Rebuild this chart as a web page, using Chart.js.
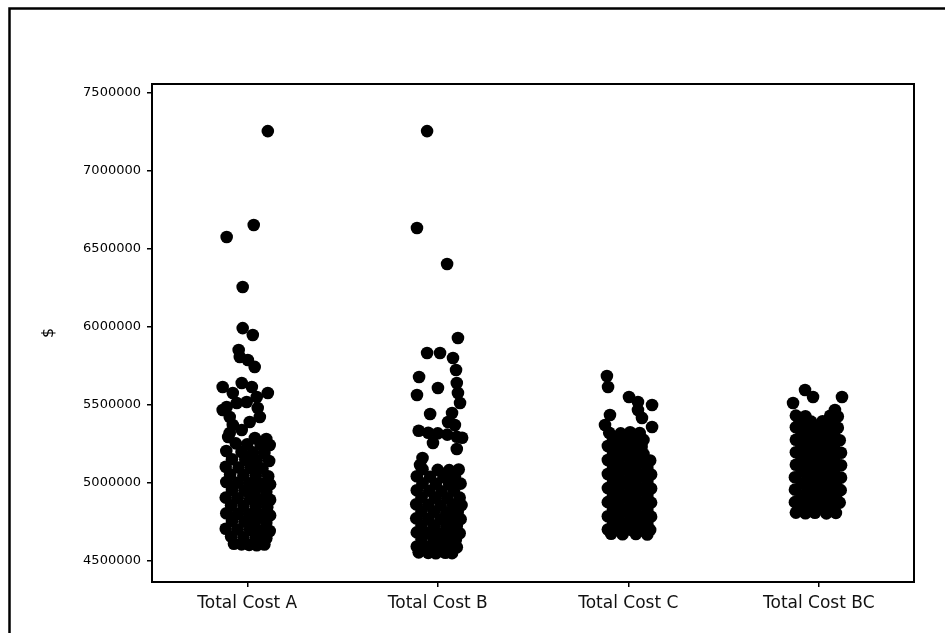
<!DOCTYPE html>
<html>
<head>
<meta charset="utf-8">
<script src="https://cdn.jsdelivr.net/npm/chart.js@4.4.1/dist/chart.umd.min.js"></script>
<style>
  html, body { margin: 0; padding: 0; background: #fff; }
  #wrap { width: 945px; height: 633px; }
</style>
</head>
<body>
<div id="wrap"><canvas id="costChart" width="945" height="633"></canvas></div>
<script>
// categories on the x axis
const categories = ["Total Cost A", "Total Cost B", "Total Cost C", "Total Cost BC"];
const yTicks = [4500000, 5000000, 5500000, 6000000, 6500000, 7000000, 7500000];

// individual values (jitter is the horizontal spread inside a column)
const costA = [
  7256000, 6654000, 6577000, 6256000, 5993000, 5949000,
  5852000, 5808000, 5788000, 5744000,
  5641000, 5615000, 5615000, 5577000, 5577000, 5551000,
  5519000, 5513000, 5487000, 5481000, 5468000,
  5423000, 5423000, 5391000, 5372000, 5340000, 5320000,
  5295000, 5288000, 5282000,
  5254000, 5248000, 5246000, 5243000,
  5205000, 5198000, 5196000, 5192000,
  5152000, 5148000, 5145000, 5141000,
  5104000, 5099000, 5096000, 5092000,
  5055000, 5050000, 5047000, 5043000,
  5006000, 5002000, 4998000, 4995000, 4991000,
  4955000, 4951000, 4948000, 4944000,
  4906000, 4902000, 4899000, 4895000, 4892000,
  4856000, 4852000, 4849000, 4845000,
  4806000, 4802000, 4799000, 4795000, 4792000,
  4756000, 4752000, 4749000, 4745000,
  4706000, 4702000, 4699000, 4695000, 4692000,
  4656000, 4652000, 4649000, 4645000,
  4610000, 4606000, 4603000, 4601000, 4605000
];
const jitterA = [
  0.108, 0.034, -0.108, -0.024, -0.024, 0.029,
  -0.045, -0.039, 0.003, 0.039,
  -0.029, -0.129, 0.024, -0.076, 0.108, 0.05,
  -0.003, -0.055, -0.108, 0.055, -0.129,
  -0.092, 0.066, 0.013, -0.076, -0.029, -0.092,
  -0.1, 0.04, 0.1,
  -0.06, 0.0, 0.07, 0.118,
  -0.11, -0.03, 0.03, 0.09,
  -0.08, -0.01, 0.05, 0.115,
  -0.113, -0.045, 0.02, 0.08,
  -0.09, -0.02, 0.045, 0.11,
  -0.11, -0.05, 0.01, 0.07, 0.12,
  -0.08, -0.015, 0.04, 0.1,
  -0.113, -0.05, 0.015, 0.075, 0.12,
  -0.085, -0.02, 0.045, 0.105,
  -0.11, -0.05, 0.01, 0.07, 0.12,
  -0.08, -0.015, 0.04, 0.1,
  -0.113, -0.05, 0.015, 0.075, 0.118,
  -0.085, -0.02, 0.045, 0.1,
  -0.07, -0.03, 0.01, 0.05, 0.09
];

const costB = [
  7256000, 6635000, 6404000, 5929000, 5833000, 5833000,
  5801000, 5724000, 5679000, 5641000, 5609000, 5577000,
  5564000, 5513000, 5449000, 5442000, 5391000, 5372000,
  5335000, 5322000, 5318000, 5310000, 5296000, 5290000,
  5256000, 5218000, 5160000, 5115000,
  5088000, 5084000, 5082000, 5086000,
  5043000, 5040000, 5037000, 5041000,
  4998000, 4995000, 4992000, 4996000,
  4953000, 4950000, 4947000, 4951000,
  4908000, 4905000, 4902000, 4906000,
  4863000, 4860000, 4857000, 4861000, 4858000,
  4818000, 4815000, 4812000, 4816000,
  4773000, 4770000, 4767000, 4771000, 4768000,
  4728000, 4725000, 4722000, 4726000,
  4683000, 4680000, 4677000, 4681000, 4678000,
  4638000, 4635000, 4632000, 4636000,
  4593000, 4590000, 4587000, 4591000, 4588000,
  4555000, 4552000, 4549000, 4553000, 4550000
];
const jitterB = [
  -0.056, -0.109, 0.049, 0.106, -0.056, 0.012,
  0.08, 0.096, -0.098, 0.1, 0.001, 0.106,
  -0.109, 0.117, 0.075, -0.04, 0.054, 0.09,
  -0.1, -0.05, 0.0, 0.05, 0.1, 0.128,
  -0.025, 0.1, -0.08, -0.093,
  -0.08, 0.0, 0.06, 0.11,
  -0.11, -0.04, 0.03, 0.09,
  -0.08, -0.01, 0.06, 0.12,
  -0.11, -0.045, 0.02, 0.085,
  -0.085, -0.015, 0.05, 0.115,
  -0.113, -0.05, 0.015, 0.08, 0.125,
  -0.085, -0.02, 0.045, 0.105,
  -0.113, -0.05, 0.015, 0.075, 0.12,
  -0.085, -0.02, 0.045, 0.1,
  -0.11, -0.05, 0.01, 0.07, 0.115,
  -0.085, -0.02, 0.04, 0.095,
  -0.11, -0.05, 0.005, 0.06, 0.1,
  -0.1, -0.05, -0.01, 0.04, 0.075
];

const costC = [
  5686000, 5615000, 5551000, 5519000, 5500000,
  5468000, 5436000, 5417000, 5372000, 5359000,
  5322000, 5318000, 5325000, 5320000,
  5282000, 5278000, 5280000, 5276000,
  5237000, 5233000, 5236000, 5231000,
  5192000, 5188000, 5191000, 5186000,
  5147000, 5143000, 5146000, 5141000, 5144000,
  5102000, 5098000, 5101000, 5096000,
  5057000, 5053000, 5056000, 5051000, 5054000,
  5012000, 5008000, 5011000, 5006000,
  4967000, 4963000, 4966000, 4961000, 4964000,
  4922000, 4918000, 4921000, 4916000,
  4877000, 4873000, 4876000, 4871000, 4874000,
  4832000, 4828000, 4831000, 4826000,
  4787000, 4783000, 4786000, 4781000, 4784000,
  4742000, 4738000, 4741000, 4736000,
  4702000, 4698000, 4701000, 4696000, 4699000,
  4674000, 4671000, 4673000, 4670000
];
const jitterC = [
  -0.112, -0.106, 0.004, 0.051, 0.125,
  0.051, -0.096, 0.072, -0.122, 0.125,
  -0.1, -0.04, 0.01, 0.06,
  -0.08, -0.02, 0.04, 0.08,
  -0.107, -0.05, 0.01, 0.07,
  -0.08, -0.02, 0.04, 0.08,
  -0.107, -0.05, 0.01, 0.07, 0.115,
  -0.08, -0.02, 0.04, 0.1,
  -0.107, -0.05, 0.01, 0.07, 0.12,
  -0.08, -0.02, 0.04, 0.1,
  -0.107, -0.05, 0.01, 0.07, 0.12,
  -0.08, -0.02, 0.04, 0.1,
  -0.107, -0.05, 0.01, 0.07, 0.12,
  -0.08, -0.02, 0.04, 0.1,
  -0.107, -0.05, 0.01, 0.07, 0.12,
  -0.08, -0.02, 0.04, 0.1,
  -0.107, -0.05, 0.01, 0.07, 0.115,
  -0.09, -0.03, 0.04, 0.1
];

const costBC = [
  5596000, 5551000, 5551000, 5513000, 5468000,
  5432000, 5428000, 5431000, 5426000,
  5397000, 5393000, 5396000, 5391000,
  5357000, 5353000, 5356000, 5351000, 5354000,
  5317000, 5313000, 5316000, 5311000,
  5277000, 5273000, 5276000, 5271000, 5274000,
  5237000, 5233000, 5236000, 5231000,
  5197000, 5193000, 5196000, 5191000, 5194000,
  5157000, 5153000, 5156000, 5151000,
  5117000, 5113000, 5116000, 5111000, 5114000,
  5077000, 5073000, 5076000, 5071000,
  5037000, 5033000, 5036000, 5031000, 5034000,
  4997000, 4993000, 4996000, 4991000,
  4957000, 4953000, 4956000, 4951000, 4954000,
  4917000, 4913000, 4916000, 4911000,
  4877000, 4873000, 4876000, 4871000, 4874000,
  4842000, 4838000, 4841000, 4836000,
  4810000, 4806000, 4809000, 4805000, 4808000
];
const jitterBC = [
  -0.072, -0.03, 0.122, -0.135, 0.085,
  -0.12, -0.07, 0.06, 0.1,
  -0.1, -0.04, 0.02, 0.07,
  -0.12, -0.06, 0.0, 0.05, 0.1,
  -0.09, -0.03, 0.03, 0.08,
  -0.12, -0.06, 0.0, 0.06, 0.11,
  -0.09, -0.03, 0.03, 0.08,
  -0.12, -0.06, 0.0, 0.06, 0.117,
  -0.09, -0.03, 0.03, 0.08,
  -0.12, -0.06, 0.0, 0.06, 0.117,
  -0.09, -0.03, 0.03, 0.08,
  -0.125, -0.06, 0.0, 0.06, 0.117,
  -0.09, -0.03, 0.03, 0.09,
  -0.125, -0.06, 0.0, 0.06, 0.115,
  -0.09, -0.03, 0.03, 0.09,
  -0.125, -0.06, 0.0, 0.06, 0.11,
  -0.1, -0.04, 0.02, 0.08,
  -0.12, -0.07, -0.02, 0.04, 0.09
];

const groups = [
  { costs: costA, jitter: jitterA },
  { costs: costB, jitter: jitterB },
  { costs: costC, jitter: jitterC },
  { costs: costBC, jitter: jitterBC },
];

// outer frame + box around the plot area
const framePlugin = {
  id: "frame",
  beforeDraw(chart) {
    const ctx = chart.ctx;
    ctx.save();
    ctx.fillStyle = "#fff";
    ctx.fillRect(0, 0, chart.width, chart.height);
    ctx.strokeStyle = "#000";
    ctx.lineWidth = 2.5;
    ctx.beginPath();
    ctx.moveTo(9.5, chart.height);
    ctx.lineTo(9.5, 8.5);
    ctx.lineTo(chart.width, 8.5);
    ctx.stroke();
    ctx.restore();
  },
  afterDatasetsDraw(chart) {
    const { left, top, right, bottom } = chart.chartArea;
    const ctx = chart.ctx;
    ctx.save();
    ctx.strokeStyle = "#000";
    ctx.lineWidth = 2;
    ctx.strokeRect(left, top, right - left, bottom - top);
    ctx.restore();
  }
};

const ctx = document.getElementById("costChart");
new Chart(ctx, {
  type: "scatter",
  data: {
    datasets: groups.map((g, gi) => ({
      label: categories[gi],
      data: g.costs.map((v, i) => ({ x: gi + g.jitter[i], y: v })),
      backgroundColor: "#000",
      borderColor: "#000",
      borderWidth: 0,
      pointRadius: 6.3,
      pointHoverRadius: 6.3,
    })),
  },
  options: {
    responsive: false,
    animation: false,
    events: [],
    layout: { padding: { top: 84, right: 31, left: 0, bottom: 0 } },
    plugins: {
      legend: { display: false },
      tooltip: { enabled: false },
    },
    scales: {
      x: {
        type: "linear",
        min: -0.5,
        max: 3.5,
        afterBuildTicks: (scale) => { scale.ticks = categories.map((c, i) => ({ value: i })); },
        afterFit: (scale) => { scale.height = 51; },
        border: { display: false },
        grid: { drawOnChartArea: false, drawTicks: true, tickLength: 5, color: "#000", lineWidth: 1.5 },
        ticks: {
          color: "#111",
          padding: 6,
          maxRotation: 0,
          font: { family: "DejaVu Sans", size: 17 },
          callback: (v) => categories[v],
        },
      },
      y: {
        min: 4365000,
        max: 7558000,
        afterBuildTicks: (scale) => { scale.ticks = yTicks.map((v) => ({ value: v })); },
        afterFit: (scale) => { scale.width = 152; },
        border: { display: false },
        grid: { drawOnChartArea: false, drawTicks: true, tickLength: 5, color: "#000", lineWidth: 1.5 },
        ticks: {
          color: "#000",
          padding: 6,
          font: { family: "DejaVu Sans", size: 13 },
          callback: (v) => String(v),
        },
        title: {
          display: true,
          text: "$",
          color: "#000",
          font: { family: "DejaVu Sans", size: 16 },
          padding: { top: 39, bottom: 0 },
        },
      },
    },
  },
  plugins: [framePlugin],
});
</script>
</body>
</html>
